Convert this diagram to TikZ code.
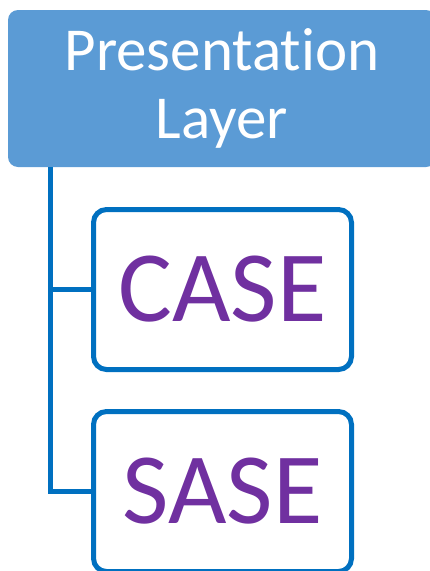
\documentclass[tikz,border=0pt]{standalone}
\usepackage{fontspec}
\setmainfont{Carlito}[Ligatures=NoCommon]
\definecolor{topfill}{HTML}{5B9BD5}
\definecolor{linkblue}{HTML}{0070C0}
\definecolor{casepurple}{HTML}{7030A0}
\begin{document}
\begin{tikzpicture}[x=1pt,y=-1pt,
  topbox/.style={fill=topfill, draw=none, rounded corners=10pt, minimum width=428pt, minimum height=157pt, inner sep=0pt, text=white, align=center, font=\fontsize{61}{68}\selectfont},
  childbox/.style={draw=linkblue, line width=5pt, fill=white, rounded corners=13pt, minimum width=258pt, minimum height=160pt, inner sep=0pt, text=casepurple, font=\fontsize{101}{110}\selectfont},
  link/.style={draw=linkblue, line width=5pt}]
\useasboundingbox (0,0) rectangle (429,571);
\node[topbox] (top) at (222,88.5) {Presentation\\Layer};
\node[childbox] (c1) at (222.5,289.5) {CASE};
\node[childbox] (c2) at (222.5,491.5) {SASE};
\coordinate (trunk) at (50,167);
\draw[link] (trunk) |- (c1.west);
\draw[link] (trunk) |- (c2.west);
\end{tikzpicture}
\end{document}
